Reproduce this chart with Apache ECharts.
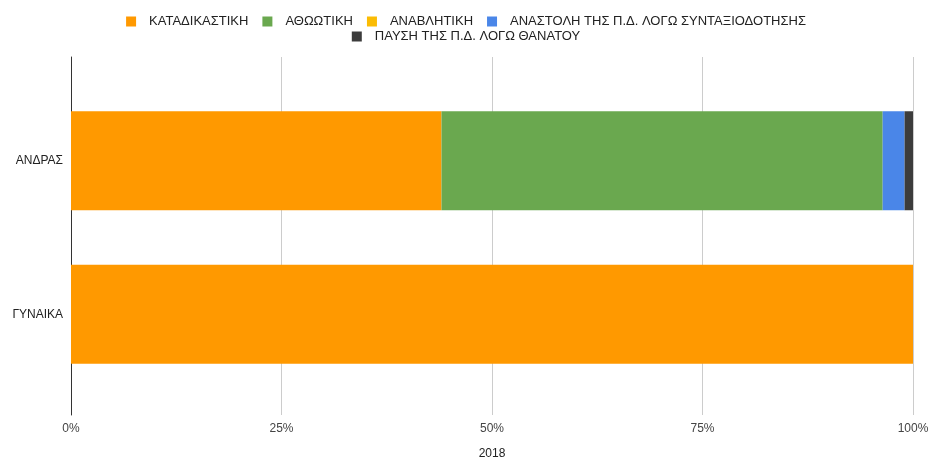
<!DOCTYPE html>
<html><head><meta charset="utf-8">
<script src="https://cdn.jsdelivr.net/npm/echarts@6/dist/echarts.min.js"></script>
<style>html,body{margin:0;padding:0;background:#fff}#c{width:932px;height:463px}</style>
</head><body><div id="c"></div>
<script>
const categories = ['ΑΝΔΡΑΣ', 'ΓΥΝΑΙΚΑ'];
const seriesNames = ['ΚΑΤΑΔΙΚΑΣΤΙΚΗ', 'ΑΘΩΩΤΙΚΗ', 'ΑΝΑΒΛΗΤΙΚΗ', 'ΑΝΑΣΤΟΛΗ ΤΗΣ Π.Δ. ΛΟΓΩ ΣΥΝΤΑΞΙΟΔΟΤΗΣΗΣ', 'ΠΑΥΣΗ ΤΗΣ Π.Δ. ΛΟΓΩ ΘΑΝΑΤΟΥ'];
const katadikastiki = [44.0, 100];
const athootiki = [52.4, 0];
const anavlitiki = [0, 0];
const anastoli = [2.6, 0];
const pafsi = [1.0, 0];
const xTicks = [0, 25, 50, 75, 100];
const axisTitle = '2018';
const colors = ['#ff9900', '#6aa84f', '#fbbc04', '#4a86e8', '#3c3c3c'];

const values = [katadikastiki, athootiki, anavlitiki, anastoli, pafsi];
const font = 'Liberation Sans, Arial, sans-serif';
const chart = echarts.init(document.getElementById('c'), null, {renderer: 'canvas'});
const legendCommon = {
  itemWidth: 10, itemHeight: 10, itemGap: 14, icon: 'rect',
  textStyle: {fontFamily: font, fontSize: 13, color: '#222', padding: [0, 0, 0, 8]}
};
chart.setOption({
  animation: false,
  color: colors,
  legend: [
    Object.assign({}, legendCommon, {data: seriesNames.slice(0, 4), top: 10, left: 'center'}),
    Object.assign({}, legendCommon, {data: seriesNames.slice(4), top: 25, left: 'center'})
  ],
  grid: [
    {left: 71, right: 19, top: 57, bottom: 48, containLabel: false, outerBoundsMode: 'none'},
    {left: 71, right: 19, top: 84, bottom: 72, containLabel: false, outerBoundsMode: 'none'}
  ],
  xAxis: [
    {gridIndex: 0, type: 'value', min: xTicks[0], max: xTicks[xTicks.length - 1], interval: 25,
     axisLine: {show: false}, axisTick: {show: false},
     splitLine: {show: true, lineStyle: {color: '#cccccc', width: 1}},
     axisLabel: {formatter: '{value}%', fontFamily: font, fontSize: 12, color: '#444', margin: 8},
     name: axisTitle, nameLocation: 'middle', nameGap: 33,
     nameTextStyle: {fontFamily: font, fontSize: 12, color: '#222'}},
    {gridIndex: 1, type: 'value', min: 0, max: 100, show: false}
  ],
  yAxis: [
    {gridIndex: 0, type: 'category', data: [''], axisLine: {show: true, lineStyle: {color: '#333', width: 1}},
     axisTick: {show: false}, axisLabel: {show: false}},
    {gridIndex: 1, type: 'category', data: categories, inverse: true,
     axisLine: {show: false}, axisTick: {show: false},
     axisLabel: {fontFamily: font, fontSize: 12, color: '#222', margin: 8}}
  ],
  series: seriesNames.map((n, i) => ({
    name: n, type: 'bar', stack: 'total', xAxisIndex: 1, yAxisIndex: 1,
    barWidth: 99, data: values[i], itemStyle: {color: colors[i]}
  }))
});
</script></body></html>
